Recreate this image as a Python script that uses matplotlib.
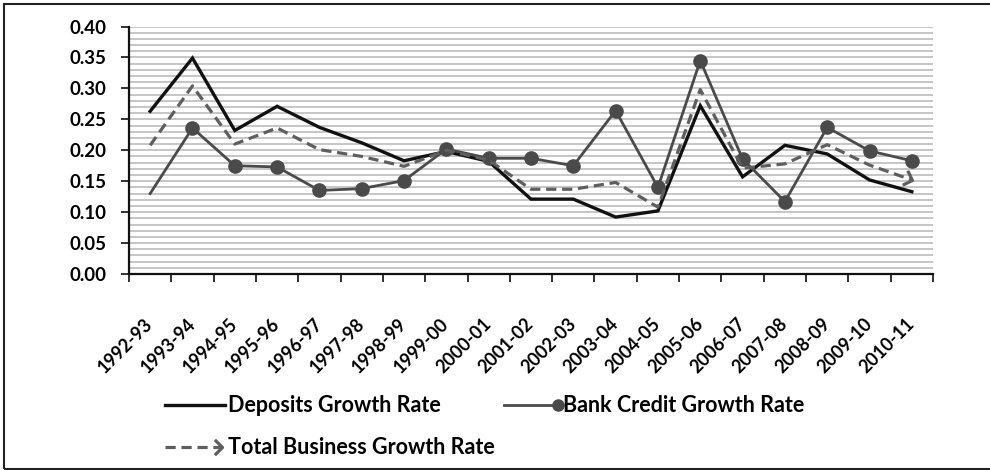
import numpy as np
import matplotlib
matplotlib.use('Agg')
import matplotlib.pyplot as plt
from matplotlib.lines import Line2D
from matplotlib.markers import MarkerStyle
from matplotlib.patches import Rectangle
from matplotlib.ticker import MultipleLocator, FixedLocator
from matplotlib.transforms import Affine2D

years = ['1992-93', '1993-94', '1994-95', '1995-96', '1996-97', '1997-98',
         '1998-99', '1999-00', '2000-01', '2001-02', '2002-03', '2003-04',
         '2004-05', '2005-06', '2006-07', '2007-08', '2008-09', '2009-10',
         '2010-11']
deposits = [0.263, 0.349, 0.232, 0.271, 0.237, 0.212, 0.183, 0.198, 0.182,
            0.121, 0.121, 0.092, 0.102, 0.272, 0.157, 0.208, 0.194, 0.152,
            0.133]
credit = [0.130, 0.236, 0.175, 0.173, 0.135, 0.138, 0.151, 0.202, 0.187,
          0.187, 0.175, 0.264, 0.140, 0.345, 0.186, 0.117, 0.237, 0.199,
          0.183]
total = [0.208, 0.304, 0.210, 0.236, 0.201, 0.190, 0.174, 0.200, 0.184,
         0.137, 0.137, 0.148, 0.108, 0.298, 0.171, 0.178, 0.209, 0.176,
         0.152]

plt.rcParams['font.family'] = ['Lato', 'DejaVu Sans']
plt.rcParams['font.weight'] = 'bold'

W, H = 990, 470
fig = plt.figure(figsize=(W / 100, H / 100), dpi=100)
ax = fig.add_axes([129 / W, 1 - 274 / H, (933 - 129) / W, (274 - 26.5) / H])

x = np.arange(len(years))
ax.set_xlim(-0.5, len(years) - 0.5)
ax.set_ylim(0, 0.40)

c_dep, c_cred, c_tot = '#111111', '#4a4a4a', '#5e5e5e'
chevron = [(-1, 1), (0, 0), (-1, -1)]

# direction of the last dashed segment, so the arrow head follows it
p0, p1 = ax.transData.transform([(x[-2], total[-2]), (x[-1], total[-1])])
ang = np.degrees(np.arctan2(p1[1] - p0[1], p1[0] - p0[0]))
arrow = MarkerStyle(chevron, transform=Affine2D().rotate_deg(ang))

ax.plot(x, deposits, color=c_dep, lw=2.4, solid_joinstyle='miter', zorder=3)
ax.plot(x, credit, color=c_cred, lw=2.0, marker='o', ms=9.5,
        markevery=list(range(1, len(x))), zorder=4)
ax.plot(x, total, color=c_tot, lw=2.3, dashes=(3.2, 1.8),
        marker=arrow, ms=11, mfc='none', mec=c_tot, mew=2.3,
        markevery=[len(x) - 1], zorder=5)

# y axis: labels every 0.05, stripes every 0.01
ax.yaxis.set_major_locator(MultipleLocator(0.05))
ax.yaxis.set_minor_locator(MultipleLocator(0.01))
ax.yaxis.set_major_formatter(lambda v, pos: f'{v:.2f}')
ax.grid(which='both', axis='y', color='#c6c6c6', lw=1.4)
ax.set_axisbelow(True)
ax.tick_params(axis='y', which='major', length=6, width=1.3, pad=10,
               labelsize=13.5, color='#222222')
ax.tick_params(axis='y', which='minor', length=0)

# x axis: labels at categories, tick marks between them
ax.set_xticks(x)
ax.set_xticklabels(years, rotation=45, ha='right', va='center',
                   rotation_mode='anchor')
ax.xaxis.set_minor_locator(FixedLocator(np.arange(-0.5, len(years), 1.0)))
ax.tick_params(axis='x', which='major', length=0, pad=34, labelsize=13)
ax.tick_params(axis='x', which='minor', length=6, width=1.3,
               color='#222222')

for s in ['top', 'right']:
    ax.spines[s].set_visible(False)
for s in ['left', 'bottom']:
    ax.spines[s].set_linewidth(1.6)
    ax.spines[s].set_color('#111111')

# legend keys and labels
def fx(px):
    return px / W

def fy(py):
    return 1 - py / H

fig.add_artist(Line2D([fx(165), fx(225)], [fy(405)] * 2, color=c_dep,
                      lw=2.4, transform=fig.transFigure))
fig.text(fx(228), fy(405), 'Deposits Growth Rate', va='center',
         fontsize=15.5)
fig.add_artist(Line2D([fx(504), fx(558)], [fy(405)] * 2, color=c_cred,
                      lw=2.0, marker='o', ms=8, markevery=[1],
                      transform=fig.transFigure))
fig.text(fx(563), fy(405), 'Bank Credit Growth Rate', va='center',
         fontsize=15.5)
fig.add_artist(Line2D([fx(165), fx(222)], [fy(447)] * 2, color=c_tot,
                      lw=2.3, dashes=(3.2, 1.8), marker=chevron, ms=11,
                      mfc='none', mec=c_tot, mew=2.3, markevery=[1],
                      transform=fig.transFigure))
fig.text(fx(228), fy(447), 'Total Business Growth Rate', va='center',
         fontsize=15.5)

# frame round the whole chart
fig.add_artist(Rectangle((fx(3.5), fy(468.5)), 1.1, (468.5 - 4) / H,
                         transform=fig.transFigure, fill=False,
                         edgecolor='#222222', lw=1.5))

fig.savefig('out.png', dpi=100)
